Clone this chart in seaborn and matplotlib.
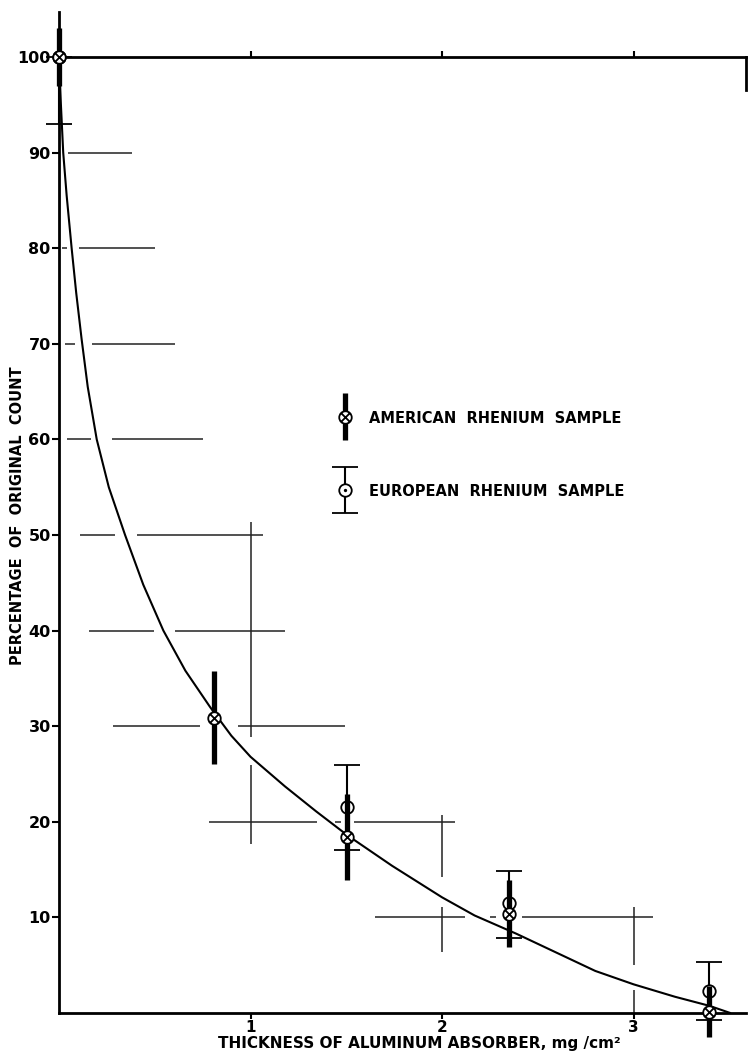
import seaborn as sns
import matplotlib.pyplot as plt
from matplotlib.path import Path
from matplotlib.container import ErrorbarContainer
from matplotlib.legend_handler import HandlerErrorbar

sns.set_style("white")
plt.rcParams['font.family'] = ['DejaVu Sans']
plt.rcParams['font.weight'] = 'bold'
plt.rcParams['text.color'] = 'black'
plt.rcParams['axes.labelcolor'] = 'black'
plt.rcParams['xtick.color'] = 'black'
plt.rcParams['ytick.color'] = 'black'

# absorption curve
curve_x = [0, 0.01, 0.022, 0.04, 0.066, 0.09, 0.118, 0.15, 0.197, 0.26,
           0.345, 0.44, 0.545, 0.66, 0.789, 0.90, 1.0, 1.18, 1.342, 1.505,
           1.739, 2.0, 2.17, 2.387, 2.62, 2.80, 3.0, 3.216, 3.396, 3.505]
curve_y = [100, 95, 90, 85.5, 80, 75.3, 70.5, 65.5, 60, 55,
           50, 44.8, 40, 35.8, 32, 29, 26.8, 23.7, 21.1, 18.6,
           15.4, 12.1, 10.2, 8.3, 6.1, 4.4, 3.0, 1.7, 0.75, 0]

american_x = [0, 0.81, 1.505, 2.351, 3.393]
american_y = [100, 30.9, 18.4, 10.4, 0.15]
american_err = [3.0, 4.9, 4.5, 3.5, 2.7]

european_x = [0, 1.505, 2.351, 3.393]
european_y = [100, 21.5, 11.5, 2.25]
european_err_lo = [7.0, 4.4, 3.7, 3.0]
european_err_hi = [0.0, 4.4, 3.4, 3.05]

# leftover construction lines of the hand drawn grid
hgrid_y = [90, 80, 80, 70, 70, 60, 60, 50, 50, 40, 40, 30, 30,
           20, 20, 20, 10, 10, 10]
hgrid_x0 = [0.047, 0.015, 0.104, 0.03, 0.17, 0.04, 0.275, 0.11, 0.406,
            0.158, 0.606, 0.28, 0.935, 0.785, 1.44, 1.54, 1.65, 2.25, 2.42]
hgrid_x1 = [0.38, 0.04, 0.50, 0.084, 0.606, 0.166, 0.754, 0.29, 1.067,
            0.496, 1.18, 0.736, 1.494, 1.345, 1.47, 2.07, 2.12, 2.28, 3.10]
vgrid_x = [1, 1, 2, 2, 3, 3]
vgrid_y0 = [28.9, 17.7, 14.2, 6.4, 5.0, 0]
vgrid_y1 = [51.4, 25.9, 20.7, 11.1, 11.1, 2.4]

x_ticks = [1, 2, 3]
y_ticks = [10, 20, 30, 40, 50, 60, 70, 80, 90, 100]

# circle-with-cross and circle-with-dot markers
d = 0.7071
cross = Path([(-d, -d), (d, d), (-d, d), (d, -d)],
             [Path.MOVETO, Path.LINETO, Path.MOVETO, Path.LINETO])
otimes = Path.make_compound_path(Path.unit_circle(), cross)
odot = Path.make_compound_path(Path.unit_circle(), Path.circle((0, 0), 0.12))

fig = plt.figure(figsize=(7.5, 10.53), dpi=100)
ax = fig.add_axes([59 / 750, 40 / 1053, 687 / 750, 956 / 1053])

ax.hlines(hgrid_y, hgrid_x0, hgrid_x1, color='#222222', lw=1.1, zorder=1)
ax.vlines(vgrid_x, vgrid_y0, vgrid_y1, color='#222222', lw=1.1, zorder=1)

sns.lineplot(x=curve_x, y=curve_y, color='black', lw=1.5, sort=False,
             estimator=None, ax=ax, zorder=2)

eu = ax.errorbar(european_x, european_y,
                 yerr=[european_err_lo, european_err_hi],
                 ls='none', marker=odot, ms=9, mfc='white', mec='black',
                 mew=1.3, ecolor='black', elinewidth=1.5, capsize=9.5,
                 capthick=1.5, zorder=3)
am = ax.errorbar(american_x, american_y, yerr=american_err,
                 ls='none', marker=otimes, ms=9, mfc='white', mec='black',
                 mew=1.3, ecolor='black', elinewidth=3.8, capsize=0,
                 zorder=4)
for c in (eu, am):
    for a in c.get_children():
        a.set_clip_on(False)

ax.set_xlim(0, 3.587)
ax.set_ylim(0, 100)

for side in ['left', 'bottom', 'top', 'right']:
    ax.spines[side].set_linewidth(2.0)
    ax.spines[side].set_color('black')
ax.spines['left'].set_bounds(0, 104.7)
ax.spines['right'].set_bounds(96.5, 100)

ax.set_xticks(x_ticks)
ax.set_xticklabels([str(t) for t in x_ticks], fontsize=11, fontweight='bold')
ax.set_yticks(y_ticks)
ax.set_yticklabels([str(t) for t in y_ticks], fontsize=11.5, fontweight='bold')
ax.tick_params(axis='y', direction='out', length=5, width=1.5, pad=1, left=True)
ax.tick_params(axis='x', direction='out', length=4, width=1.5, pad=1,
               bottom=True, top=True)

ax.set_xlabel('THICKNESS OF ALUMINUM ABSORBER, mg /cm²', fontsize=11,
              fontweight='bold')
ax.xaxis.set_label_coords(0.525, -0.024)
ax.set_ylabel('PERCENTAGE  OF  ORIGINAL  COUNT', fontsize=10.5,
              fontweight='bold')
ax.yaxis.set_label_coords(-0.05, 0.52)

ax.legend([am, eu], ['AMERICAN  RHENIUM  SAMPLE', 'EUROPEAN  RHENIUM  SAMPLE'],
          handler_map={ErrorbarContainer: HandlerErrorbar(yerr_size=1.6)},
          loc='center left', bbox_to_anchor=(0.387, 0.584), frameon=False,
          numpoints=1, handlelength=1.0, handleheight=1.0, labelspacing=4.0,
          handletextpad=1.15, prop={'size': 10.5, 'weight': 'bold'})

fig.savefig('out.png', dpi=100, facecolor='white')
